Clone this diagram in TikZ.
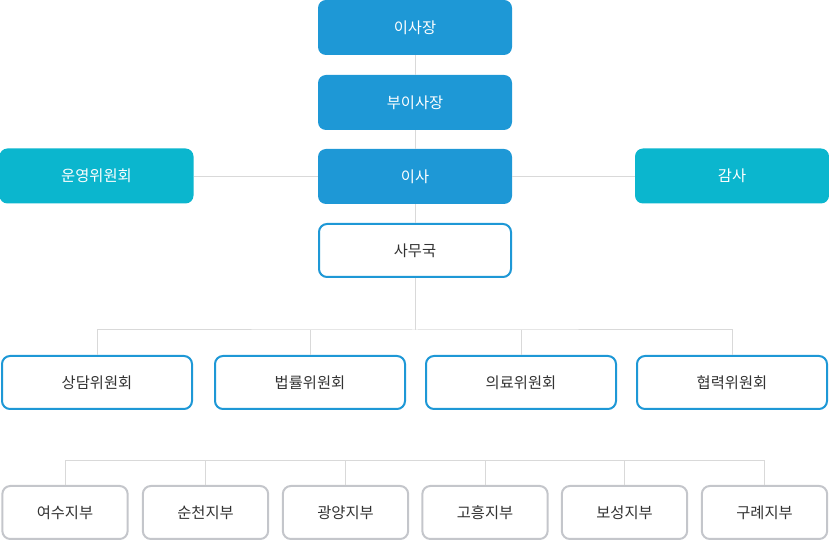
\documentclass[tikz,border=0pt]{standalone}
\usepackage{fontspec}
\usepackage{xcolor}
\usepackage{tikz}
\newfontfamily\kor{Noto Sans CJK KR}
\definecolor{orgblue}{RGB}{30,152,214}
\definecolor{orgteal}{RGB}{11,182,206}
\definecolor{orgline}{RGB}{217,217,217}
\definecolor{orggray}{RGB}{196,198,203}
\definecolor{orgtext}{RGB}{51,51,51}

\begin{document}
\begin{tikzpicture}[x=0.75pt, y=-0.75pt,
	box/.style={rounded corners=6pt, minimum height=41.25pt, inner sep=0pt, font=\kor\fontsize{11.5pt}{13pt}\selectfont},
	head/.style={box, fill=orgblue, text=white, minimum width=145.5pt},
	side/.style={box, fill=orgteal, text=white, minimum width=145.5pt},
	office/.style={box, draw=orgblue, line width=1.5pt, fill=white, text=orgtext, minimum width=144pt, minimum height=39.75pt},
	committee/.style={box, draw=orgblue, line width=1.5pt, fill=white, text=orgtext, minimum width=142.5pt, minimum height=39.75pt},
	branch/.style={box, draw=orggray, line width=1.5pt, fill=white, text=orgtext, minimum width=94pt, minimum height=39.75pt},
	conn/.style={draw=orgline, line width=0.75pt}]
	\useasboundingbox (0,0) rectangle (829,541);
	\node[head] (chair) at (415,27.5) {이사장};
	\node[head] (vice) at (415,102.5) {부이사장};
	\node[head] (board) at (415,176.5) {이사};
	\node[office] (secretariat) at (415,250.5) {사무국};
	\node[side] (steering) at (96.5,176) {운영위원회};
	\node[side] (audit) at (732,176) {감사};
	\node[committee] (counsel) at (97,382.5) {상담위원회};
	\node[committee] (legal) at (310,382.5) {법률위원회};
	\node[committee] (medical) at (521,382.5) {의료위원회};
	\node[committee] (coop) at (732,382.5) {협력위원회};
	\node[branch] (yeosu) at (65,512.5) {여수지부};
	\node[branch] (suncheon) at (205.5,512.5) {순천지부};
	\node[branch] (gwangyang) at (345.5,512.5) {광양지부};
	\node[branch] (goheung) at (485,512.5) {고흥지부};
	\node[branch] (boseong) at (624.5,512.5) {보성지부};
	\node[branch] (gurye) at (764.5,512.5) {구례지부};
	\coordinate (busA) at (415,330);
	\coordinate (busB) at (415,460.5);
	\draw[conn] (chair) -- (vice);
	\draw[conn] (vice) -- (board);
	\draw[conn] (board) -- (secretariat);
	\draw[conn] (board.west) -- (board.west -| steering.east);
	\draw[conn] (board.east) -- (board.east -| audit.west);
	\draw[conn] (secretariat) -- (busA);
	\draw[conn] (counsel.north) |- (busA) -| (coop.north);
	\draw[conn] (legal.north) -- (legal.north |- busA);
	\draw[conn] (medical.north) -- (medical.north |- busA);
	\draw[conn] (yeosu.north) |- (busB) -| (gurye.north);
	\foreach \b in {suncheon,gwangyang,goheung,boseong}
		\draw[conn] (\b.north) -- (\b.north |- busB);
\end{tikzpicture}
\end{document}
